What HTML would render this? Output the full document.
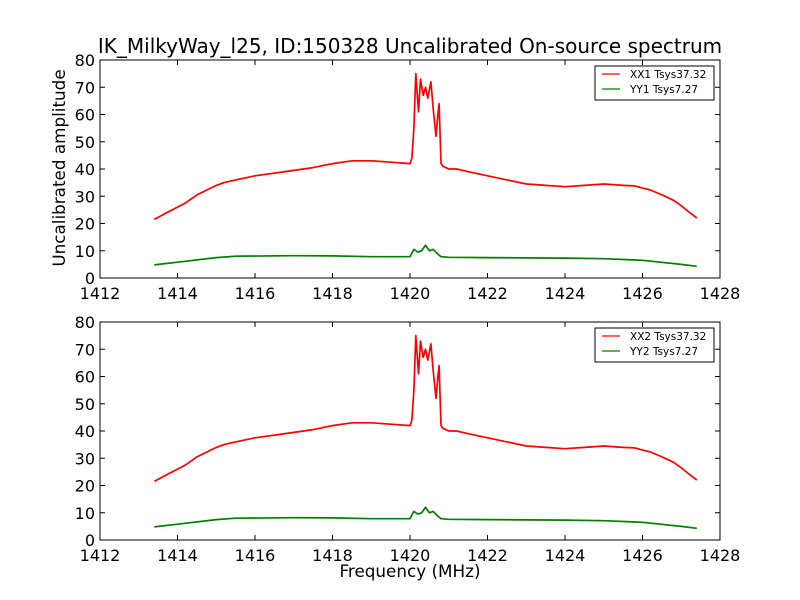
<!DOCTYPE html>
<html><head><meta charset="utf-8"><style>
body{margin:0;background:#fff}
svg{display:block;font-family:"DejaVu Sans","Liberation Sans",sans-serif}
</style></head><body>
<svg id="chart" width="800" height="600" viewBox="0 0 800 600">
<rect width="800" height="600" fill="#fff"/>
<text x="410" y="53" text-anchor="middle" font-size="20">IK_MilkyWay_l25, ID:150328 Uncalibrated On-source spectrum</text>
<text x="410" y="577" text-anchor="middle" font-size="16.8">Frequency (MHz)</text>
<text transform="translate(65,168) rotate(-90)" text-anchor="middle" font-size="16.8">Uncalibrated amplitude</text>
</svg>
<script>
const xFreq = [1413.4,1413.7,1414,1414.2,1414.5,1415,1415.2,1415.5,1416,1416.5,1417,1417.5,1418,1418.5,1419,1419.5,1420,1420.05,1420.1,1420.15,1420.22,1420.27,1420.34,1420.4,1420.46,1420.54,1420.6,1420.67,1420.72,1420.75,1420.8,1420.85,1421,1421.2,1421.5,1422,1422.5,1423,1423.2,1423.5,1424,1424.5,1425,1425.5,1425.8,1426,1426.2,1426.5,1426.8,1427,1427.2,1427.4];
const xxValues = [21.5,23.8,26,27.5,30.5,34,35,36,37.5,38.5,39.5,40.5,42,43,43,42.5,42,44,55,75,61,73,67,70,66,72,62,52,60,64,42,41,40,40,39,37.5,36,34.5,34.3,34,33.5,34,34.5,34,33.8,33,32.3,30.5,28.5,26.5,24.2,22];
const gFreq = [1413.4,1414,1415,1415.5,1417,1418,1419,1420,1420.1,1420.2,1420.3,1420.4,1420.5,1420.6,1420.7,1420.8,1421,1422,1424,1425,1426,1427,1427.4];
const yyValues = [4.8,5.8,7.5,8,8.2,8.1,7.8,7.8,10.5,9.5,10,12,10,10.5,9,7.8,7.6,7.5,7.3,7.1,6.5,5,4.3];
const xTicks = [1412,1414,1416,1418,1420,1422,1424,1426,1428];
const yTicks = [0,10,20,30,40,50,60,70,80];
const panels = [{top:60,leg:["XX1 Tsys37.32","YY1 Tsys7.27"]},{top:322,leg:["XX2 Tsys37.32","YY2 Tsys7.27"]}];
const NS="http://www.w3.org/2000/svg", svg=document.getElementById('chart');
const L=100,R=720,H=218;
const xs=v=>L+(v-1412)/(1428-1412)*(R-L);
function mk(t,a,p){const e=document.createElementNS(NS,t);for(const k in a)e.setAttribute(k,a[k]);(p||svg).appendChild(e);return e;}
panels.forEach((p,pi)=>{
  const ys=v=>p.top+H-v/80*H;
  const g=mk('g',{});
  
  
  const line=(fx,vals,col,name)=>{
    const d=fx.map((f,i)=>(i?'L':'M')+xs(f).toFixed(1)+','+ys(vals[i]).toFixed(1)).join('');
    const pa=mk('path',{d:d,fill:'none',stroke:col,'stroke-width':1.7,'stroke-linejoin':'round'},g);
    
    
  };
  line(xFreq,xxValues,'#ff0000','xx-series-'+(pi+1));
  line(gFreq,yyValues,'#008000','yy-series-'+(pi+1));
  mk('rect',{x:L,y:p.top,width:R-L,height:H,fill:'none',stroke:'#000','stroke-width':1},g);
  xTicks.forEach(t=>{
    const x=xs(t);
    mk('line',{x1:x,x2:x,y1:p.top+H,y2:p.top+H-5,stroke:'#000'},g);
    mk('line',{x1:x,x2:x,y1:p.top,y2:p.top+5,stroke:'#000'},g);
    const tx=mk('text',{x:x,y:p.top+H+21,'text-anchor':'middle','font-size':16},g);tx.textContent=t;
    
    
  });
  yTicks.forEach(t=>{
    const y=ys(t);
    mk('line',{x1:L,x2:L+5,y1:y,y2:y,stroke:'#000'},g);
    mk('line',{x1:R,x2:R-5,y1:y,y2:y,stroke:'#000'},g);
    const tx=mk('text',{x:L-5,y:y+6,'text-anchor':'end','font-size':16},g);tx.textContent=t;
    
    
  });
  const lg=mk('g',{},g);
  
  
  mk('rect',{x:595,y:p.top+6,width:119,height:34,fill:'#fff',stroke:'#000'},lg);
  [['#ff0000',p.leg[0]],['#008000',p.leg[1]]].forEach((e,i)=>{
    const y=p.top+14+i*15;
    mk('line',{x1:602,x2:620,y1:y,y2:y,stroke:e[0],'stroke-width':1.2},lg);
    const tx=mk('text',{x:630,y:y+4,'font-size':10.5},lg);tx.textContent=e[1];
    
    
  });
});
</script>
</body></html>
